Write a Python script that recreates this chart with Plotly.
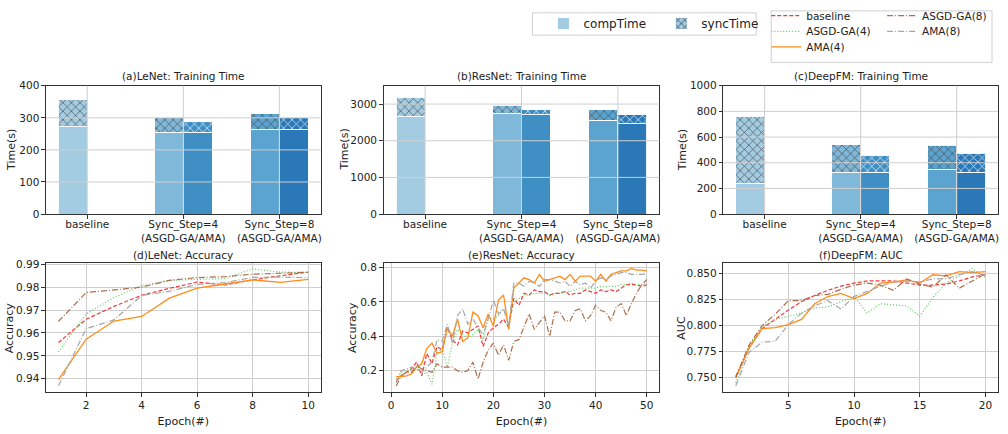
import plotly.graph_objects as go

W, H = 1008, 434

# ---------------- data ----------------
categories = ["baseline", "Sync_Step=4<br>(ASGD-GA/AMA)", "Sync_Step=8<br>(ASGD-GA/AMA)"]
bar_methods = ["baseline", "ASGD-GA", "AMA", "ASGD-GA", "AMA"]
bar_category = [0, 1, 1, 2, 2]
bar_colors = ["#a3cce3", "#80b8da", "#3f8fc5", "#5ca4d0", "#2a78b8"]

lenet_total = [357, 302, 288, 312, 302]
lenet_comp = [272, 255, 255, 265, 265]
resnet_total = [3184, 2965, 2851, 2851, 2702]
resnet_comp = [2658, 2746, 2702, 2553, 2465]
deepfm_total = [762, 542, 460, 535, 475]
deepfm_comp = [240, 325, 325, 345, 325]

series_names = ["baseline", "ASGD-GA(4)", "AMA(4)", "ASGD-GA(8)", "AMA(8)"]

lenet_acc = {
    "baseline":   [0.9558, 0.9660, 0.9716, 0.9765, 0.9795, 0.9822, 0.9810, 0.9832, 0.9850, 0.9866],
    "ASGD-GA(4)": [0.9518, 0.9683, 0.9755, 0.9807, 0.9830, 0.9834, 0.9838, 0.9880, 0.9866, 0.9864],
    "AMA(4)":     [0.9396, 0.9573, 0.9652, 0.9672, 0.9752, 0.9796, 0.9814, 0.9832, 0.9821, 0.9834],
    "ASGD-GA(8)": [0.9650, 0.9777, 0.9788, 0.9800, 0.9830, 0.9842, 0.9846, 0.9857, 0.9861, 0.9865],
    "AMA(8)":     [0.9369, 0.9619, 0.9657, 0.9764, 0.9782, 0.9812, 0.9820, 0.9843, 0.9844, 0.9842],
}

resnet_acc = {
    "baseline": [0.14, 0.17, 0.19, 0.21, 0.25, 0.17, 0.30, 0.24, 0.34, 0.32,
                 0.45, 0.38, 0.35, 0.43, 0.42, 0.44, 0.46, 0.34, 0.42, 0.45,
                 0.47, 0.50, 0.45, 0.62, 0.58, 0.65, 0.64, 0.67, 0.66, 0.66,
                 0.64, 0.65, 0.65, 0.66, 0.64, 0.65, 0.65, 0.67, 0.66, 0.65,
                 0.67, 0.66, 0.67, 0.66, 0.68, 0.70, 0.70, 0.70, 0.69, 0.70],
    "ASGD-GA(4)": [0.15, 0.19, 0.20, 0.21, 0.22, 0.18, 0.19, 0.12, 0.30, 0.33,
                   0.22, 0.36, 0.44, 0.41, 0.39, 0.41, 0.44, 0.38, 0.51, 0.50,
                   0.52, 0.56, 0.47, 0.60, 0.62, 0.64, 0.64, 0.65, 0.65, 0.65,
                   0.64, 0.65, 0.65, 0.66, 0.66, 0.67, 0.68, 0.68, 0.68, 0.68,
                   0.69, 0.69, 0.69, 0.69, 0.70, 0.70, 0.71, 0.70, 0.70, 0.71],
    "AMA(4)": [0.165, 0.165, 0.17, 0.18, 0.22, 0.24, 0.33, 0.36, 0.30, 0.31,
               0.45, 0.40, 0.50, 0.37, 0.39, 0.54, 0.52, 0.45, 0.53, 0.46,
               0.61, 0.64, 0.44, 0.68, 0.71, 0.74, 0.73, 0.71, 0.76, 0.72,
               0.73, 0.74, 0.75, 0.73, 0.76, 0.72, 0.75, 0.75, 0.75, 0.72,
               0.76, 0.72, 0.76, 0.77, 0.78, 0.78, 0.795, 0.785, 0.785, 0.78],
    "ASGD-GA(8)": [0.11, 0.17, 0.19, 0.19, 0.23, 0.21, 0.20, 0.19, 0.24, 0.22,
                   0.22, 0.22, 0.20, 0.19, 0.20, 0.25, 0.15, 0.25, 0.32, 0.36,
                   0.29, 0.35, 0.26, 0.37, 0.38, 0.46, 0.53, 0.44, 0.48, 0.52,
                   0.40, 0.54, 0.54, 0.49, 0.49, 0.55, 0.56, 0.49, 0.52, 0.58,
                   0.55, 0.54, 0.49, 0.57, 0.59, 0.52, 0.59, 0.65, 0.70, 0.73],
    "AMA(8)": [0.13, 0.20, 0.21, 0.22, 0.21, 0.19, 0.22, 0.25, 0.38, 0.37,
               0.47, 0.36, 0.52, 0.56, 0.47, 0.50, 0.45, 0.41, 0.50, 0.61,
               0.53, 0.56, 0.46, 0.71, 0.71, 0.69, 0.72, 0.71, 0.69, 0.73,
               0.73, 0.72, 0.71, 0.72, 0.69, 0.72, 0.70, 0.71, 0.68, 0.72,
               0.74, 0.73, 0.75, 0.76, 0.77, 0.77, 0.76, 0.76, 0.76, 0.765],
}

deepfm_auc = {
    "baseline": [0.751, 0.778, 0.797, 0.806, 0.815, 0.823, 0.829, 0.834, 0.838, 0.841,
                 0.843, 0.843, 0.843, 0.841, 0.839, 0.839, 0.840, 0.843, 0.847, 0.849],
    "ASGD-GA(4)": [0.745, 0.780, 0.799, 0.806, 0.809, 0.812, 0.817, 0.818, 0.823, 0.828,
                   0.812, 0.821, 0.820, 0.819, 0.809, 0.827, 0.841, 0.848, 0.855, 0.846],
    "AMA(4)": [0.750, 0.778, 0.797, 0.798, 0.801, 0.806, 0.821, 0.828, 0.831, 0.826,
               0.831, 0.841, 0.842, 0.844, 0.841, 0.849, 0.848, 0.852, 0.851, 0.852],
    "ASGD-GA(8)": [0.750, 0.781, 0.800, 0.811, 0.824, 0.824, 0.829, 0.830, 0.835, 0.839,
                   0.841, 0.839, 0.834, 0.845, 0.840, 0.837, 0.849, 0.836, 0.843, 0.850],
    "AMA(8)": [0.742, 0.774, 0.784, 0.785, 0.801, 0.812, 0.819, 0.824, 0.816, 0.828,
               0.833, 0.838, 0.842, 0.843, 0.842, 0.845, 0.845, 0.849, 0.852, 0.848],
}

# ---------------- styles ----------------
FONT = "DejaVu Sans"
GRID = "#cfcfcf"
AXC = "#333333"
line_styles = {
    "baseline":   dict(color="#f23a3a", dash="4px,2px", width=1.2),
    "ASGD-GA(4)": dict(color="#5cc85c", dash="1px,2px", width=1.2),
    "AMA(4)":     dict(color="#ff8c1a", dash="solid", width=1.3),
    "ASGD-GA(8)": dict(color="#ad6e4a", dash="6px,2px,1px,2px", width=1.2),
    "AMA(8)":     dict(color="#a6a6a6", dash="6px,2px,1px,2px", width=1.2),
}
legend_slot = {"baseline": "legend2", "ASGD-GA(4)": "legend3", "AMA(4)": "legend4",
               "ASGD-GA(8)": "legend5", "AMA(8)": "legend6"}

col_x = [(46, 321), (384, 660), (724, 999)]
top_y = (82, 214)
bot_y = (264, 397)
ytitle_x_top = [12, 345, 684]
ytitle_x_bot = [9, 353, 682]


def xd(a, b):
    return [a / W, b / W]


def yd(a, b):
    return [1 - b / H, 1 - a / H]


fig = go.Figure()

# ---------------- bar panels ----------------
bar_sets = [(lenet_total, lenet_comp), (resnet_total, resnet_comp), (deepfm_total, deepfm_comp)]
bar_w = 0.3
for i, (tot, comp) in enumerate(bar_sets):
    ax = "" if i == 0 else str(i + 1)
    xs = [c + (bar_w / 2 if m == "AMA" else -bar_w / 2) for c, m in zip(bar_category, bar_methods)]
    sync = [t - c for t, c in zip(tot, comp)]
    fig.add_trace(go.Bar(
        x=xs, y=comp, width=bar_w, name="compTime",
        marker=dict(color=bar_colors, line=dict(color="rgba(255,255,255,0.9)", width=1)),
        xaxis="x" + ax, yaxis="y" + ax, showlegend=(i == 0), legend="legend",
    ))
    fig.add_trace(go.Bar(
        x=xs, y=sync, width=bar_w, name="syncTime",
        marker=dict(color=bar_colors, line=dict(color="rgba(255,255,255,0.9)", width=1),
                    pattern=dict(shape="x", fillmode="overlay", fgcolor="#000000", fgopacity=1,
                                 bgcolor=bar_colors, size=6, solidity=0.2)),
        xaxis="x" + ax, yaxis="y" + ax, showlegend=(i == 0), legend="legend7",
    ))

# ---------------- line panels ----------------
line_sets = [lenet_acc, resnet_acc, deepfm_auc]
for i, data in enumerate(line_sets):
    ax = str(i + 4)
    for name in series_names:
        vals = data[name]
        fig.add_trace(go.Scatter(
            x=list(range(1, len(vals) + 1)), y=vals, mode="lines", name=name,
            line=line_styles[name], xaxis="x" + ax, yaxis="y" + ax,
            showlegend=(i == 0), legend=legend_slot[name],
        ))

# ---------------- axes ----------------
common = dict(showline=True, mirror=True, linecolor=AXC, linewidth=1, ticks="outside",
              ticklen=3.5, tickwidth=0.8, tickcolor=AXC, zeroline=False,
              tickfont=dict(family=FONT, size=10.5, color="#222"))

layout = dict(
    width=W, height=H, margin=dict(l=0, r=0, t=0, b=0),
    paper_bgcolor="white", plot_bgcolor="white", barmode="stack",
    font=dict(family=FONT, size=10.5, color="#222"),
)

top_ranges = [[0, 400], [0, 3500], [0, 1000]]
top_ticks = [[0, 100, 200, 300, 400], [0, 1000, 2000, 3000], [0, 200, 400, 600, 800, 1000]]
for i in range(3):
    ax = "" if i == 0 else str(i + 1)
    layout["xaxis" + ax] = dict(common, domain=xd(*col_x[i]), anchor="y" + ax, range=[-0.43, 2.43],
                                tickvals=list(range(len(categories))), ticktext=categories,
                                showgrid=False, ticklabelstandoff=-3)
    layout["yaxis" + ax] = dict(common, domain=yd(*top_y), anchor="x" + ax, range=top_ranges[i],
                                tickvals=top_ticks[i], showgrid=False)

bot_xr = [[0.55, 10.45], [-1.45, 52.45], [0.05, 20.95]]
bot_xt = [[2, 4, 6, 8, 10], [0, 10, 20, 30, 40, 50], [5, 10, 15, 20]]
bot_yr = [[0.9342, 0.9907], [0.0755, 0.828], [0.736, 0.8606]]
bot_yt = [[0.94, 0.95, 0.96, 0.97, 0.98, 0.99], [0.2, 0.4, 0.6, 0.8],
          [0.75, 0.775, 0.8, 0.825, 0.85]]
bot_fmt = [".2f", ".1f", ".3f"]
bot_ytitle = ["Accuracy", "Accuracy", "AUC"]
for i in range(3):
    ax = str(i + 4)
    layout["xaxis" + ax] = dict(common, domain=xd(*col_x[i]), anchor="y" + ax, range=bot_xr[i],
                                tickvals=bot_xt[i], showgrid=True, gridcolor=GRID, gridwidth=1,
                                title=dict(text="Epoch(#)", font=dict(size=11), standoff=7))
    layout["yaxis" + ax] = dict(common, domain=yd(*bot_y), anchor="x" + ax, range=bot_yr[i],
                                tickvals=bot_yt[i], tickformat=bot_fmt[i], showgrid=True,
                                gridcolor=GRID, gridwidth=1)

# ---------------- legends ----------------
leg_common = dict(bgcolor="rgba(0,0,0,0)", borderwidth=0, xanchor="left", yanchor="middle",
                  orientation="v", itemclick=False)
layout["legend"] = dict(leg_common, x=544 / W, y=1 - 18 / H, font=dict(family=FONT, size=12))
layout["legend7"] = dict(leg_common, x=662 / W, y=1 - 18 / H, font=dict(family=FONT, size=12))
rows = {"legend2": (767, 10), "legend3": (767, 26), "legend4": (767, 42),
        "legend5": (883, 10), "legend6": (883, 26)}
for k, (lx, ly) in rows.items():
    layout[k] = dict(leg_common, x=lx / W, y=1 - ly / H, font=dict(family=FONT, size=10.5))

fig.update_layout(**layout)

# legend frames
fig.add_shape(type="rect", xref="paper", yref="paper", x0=533 / W, x1=757 / W,
              y0=1 - 30 / H, y1=1 - 7 / H, line=dict(color="#d0d0d0", width=1),
              fillcolor="rgba(255,255,255,0.8)", layer="below")
fig.add_shape(type="rect", xref="paper", yref="paper", x0=772 / W, x1=993 / W,
              y0=1 - 58 / H, y1=1 - 5 / H, line=dict(color="#d0d0d0", width=1),
              fillcolor="rgba(255,255,255,0.8)", layer="below")

# grid above bars in top row (matplotlib draws grid over patches)
for i in range(3):
    ax = "x" if i == 0 else "x" + str(i + 1)
    ay = "y" if i == 0 else "y" + str(i + 1)
    lo, hi = top_ranges[i]
    for t in top_ticks[i]:
        if lo < t < hi:
            fig.add_shape(type="line", xref=ax + " domain", yref=ay, x0=0, x1=1, y0=t, y1=t,
                          line=dict(color=GRID, width=1), layer="above")
    for c in range(len(categories)):
        fig.add_shape(type="line", xref=ax, yref=ay + " domain", x0=c, x1=c, y0=0, y1=1,
                      line=dict(color=GRID, width=1), layer="above")

# subplot titles and y-axis titles
titles_top = ["(a)LeNet: Training Time", "(b)ResNet: Training Time", "(c)DeepFM: Training Time"]
titles_bot = ["(d)LeNet: Accuracy", "(e)ResNet: Accuracy", "(f)DeepFM: AUC"]
for i in range(3):
    ax = "x" if i == 0 else "x" + str(i + 1)
    fig.add_annotation(text=titles_top[i], xref=ax + " domain", yref="paper", x=0.5,
                       y=1 - 72.5 / H, yanchor="middle", showarrow=False,
                       font=dict(family=FONT, size=10.5, color="#222"))
    fig.add_annotation(text=titles_bot[i], xref="x%d domain" % (i + 4), yref="paper",
                       x=0.5, y=1 - 256 / H, yanchor="middle", showarrow=False,
                       font=dict(family=FONT, size=10.5, color="#222"))
    fig.add_annotation(text="Time(s)", xref="paper", yref="paper", x=ytitle_x_top[i] / W,
                       y=1 - (top_y[0] + top_y[1]) / 2 / H, textangle=-90, showarrow=False,
                       xanchor="center", yanchor="middle",
                       font=dict(family=FONT, size=11, color="#222"))
    fig.add_annotation(text=bot_ytitle[i], xref="paper", yref="paper", x=ytitle_x_bot[i] / W,
                       y=1 - (bot_y[0] + bot_y[1]) / 2 / H, textangle=-90, showarrow=False,
                       xanchor="center", yanchor="middle",
                       font=dict(family=FONT, size=11, color="#222"))

fig.write_html("out.html")
